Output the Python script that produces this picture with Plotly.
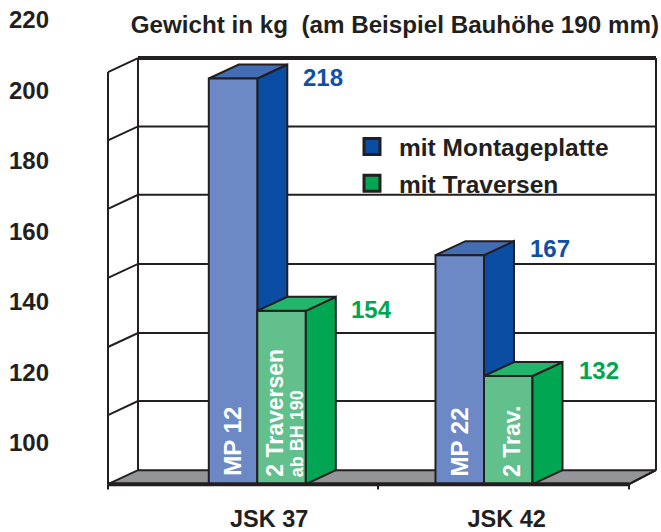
import plotly.graph_objects as go

# ---- data ----
groups = ["JSK 37", "JSK 42"]
group_pos = [0, 1]
group_label_pos = [0.052, 1.1]
axis_ticks = [100, 120, 140, 160, 180, 200, 220]
bar_top_montageplatte = [203.4, 153.3]   # height as drawn against the axis
bar_top_traversen = [137.5, 119.0]
printed_montageplatte = ["218", "167"]
printed_traversen = ["154", "132"]
inner_montageplatte = ["MP 12", "MP 22"]
inner_traversen = ["2 Traversen", "2 Trav."]
grid_levels = [111.9, 131.2, 150.8, 170.4, 189.8, 209.2]
floor_level = 92.3
floor_ticks = [-0.6586, 0.5324, 1.6398]

# ---- geometry ----
DX, DY = 0.1323, 3.97
BAR_W = 0.214
X_L, X_BR, X_FR = -0.6586, 1.7587, 1.6398
Y_RANGE = [85.25, 222.84]
X_RANGE = [-0.8924, 1.7764]
INK = "#231f20"
BASE = floor_level - DY
FONT = "Liberation Sans"

BLUE_F, BLUE_S, BLUE_T = "#6c89c6", "#0b4da2", "#436db5"
GREEN_F, GREEN_S, GREEN_T = "#62c08c", "#00a651", "#22b56b"

fig = go.Figure()


def poly(xs, ys, fill, ax=("x", "y"), width=2):
    fig.add_trace(go.Scatter(x=xs, y=ys, mode="lines", fill="toself", fillcolor=fill,
                             line=dict(color=INK, width=width), xaxis=ax[0], yaxis=ax[1],
                             showlegend=False, hoverinfo="skip"))


def lines(xs, ys, ax=("x", "y"), width=2):
    fig.add_trace(go.Scatter(x=xs, y=ys, mode="lines", line=dict(color=INK, width=width),
                             xaxis=ax[0], yaxis=ax[1], showlegend=False, hoverinfo="skip"))


back_l = X_L + DX
# floor
poly([X_L, back_l, X_BR, X_FR, X_L], [BASE, floor_level, floor_level, BASE, BASE], "#939598")
# grid + walls
gx, gy = [], []
for lv in grid_levels[:-1]:
    gx += [X_L, back_l, X_BR, None]
    gy += [lv - DY, lv, lv, None]
lines(gx, gy)
top = grid_levels[-1]
lines([X_L, back_l], [top - DY, top])
lines([back_l, X_BR], [top, top], width=4)
lines([X_L, X_L, None, back_l, back_l, None, X_BR, X_BR],
      [BASE, top - DY, None, floor_level, top, None, floor_level, top])

# dark faces of the rear bars
for p, v in zip(group_pos, bar_top_montageplatte):
    l, r = p - BAR_W, p
    poly([r, r + DX, r + DX, r, r], [v, v + DY, BASE + DY, BASE, v], BLUE_S)
    poly([l, l + DX, r + DX, r, l], [v, v + DY, v + DY, v, v], BLUE_T)

# front faces
fig.add_trace(go.Bar(x=group_pos, y=[v - BASE for v in bar_top_montageplatte], base=BASE,
                     marker=dict(color=BLUE_F, line=dict(color=INK, width=2)),
                     xaxis="x2", yaxis="y2", showlegend=False, hoverinfo="skip"))
fig.add_trace(go.Bar(x=group_pos, y=[v - BASE for v in bar_top_traversen], base=BASE,
                     marker=dict(color=GREEN_F, line=dict(color=INK, width=2)),
                     xaxis="x2", yaxis="y2", showlegend=False, hoverinfo="skip"))

for p, v in zip(group_pos, bar_top_traversen):
    l, r = p, p + BAR_W
    poly([r, r + DX, r + DX, r, r], [v, v + DY, BASE + DY, BASE, v], GREEN_S, ("x2", "y2"))
    poly([l, l + DX, r + DX, r, l], [v, v + DY, v + DY, v, v], GREEN_T, ("x2", "y2"))

# front floor edge and its ticks
lines([X_L, X_FR], [BASE, BASE], ("x2", "y2"), width=4)
tx, ty = [], []
for t in floor_ticks:
    tx += [t, t, None]
    ty += [BASE, BASE - 1.5, None]
lines(tx, ty, ("x2", "y2"))
lines([X_BR, X_FR], [floor_level, BASE], ("x2", "y2"))

# legend
for name, col in [("mit Montageplatte", BLUE_S), ("mit Traversen", GREEN_S)]:
    fig.add_trace(go.Scatter(x=[None], y=[None], mode="markers", name=name, legendgroup=name,
                             marker=dict(symbol="square", size=16, color=col,
                                         line=dict(color=INK, width=3))))

ann = []


def note(x, y, text, color, size, xshift=0, yshift=0, angle=0, xanchor="center", yanchor="middle"):
    ann.append(dict(x=x, y=y, xref="x2", yref="y2", text=text, showarrow=False, textangle=angle,
                    xshift=xshift, yshift=yshift, xanchor=xanchor, yanchor=yanchor,
                    font=dict(family=FONT, size=size, color=color, weight=700)))


for p, v, s in zip(group_pos, bar_top_montageplatte, printed_montageplatte):
    note(p + DX, v + DY, s, "#0f4fa8", 24, xshift=36, yshift=-13 if p == 0 else -7)
for p, v, s in zip(group_pos, bar_top_traversen, printed_traversen):
    note(p + BAR_W + DX, v + DY, s, "#00a651", 24, xshift=36, yshift=-13 if p == 0 else -8)
for p, s in zip(group_pos, inner_montageplatte):
    note(p - BAR_W / 2, BASE, s, "white", 24, angle=-90, yanchor="bottom", yshift=6)
note(group_pos[0] + BAR_W / 2, BASE, inner_traversen[0], "white", 23, xshift=-6, angle=-90,
     yanchor="bottom", yshift=5)
note(group_pos[0] + BAR_W / 2, BASE, "ab BH 190", "white", 18, xshift=15, angle=-90,
     yanchor="bottom", yshift=5)
note(group_pos[1] + BAR_W / 2, BASE, inner_traversen[1], "white", 23, xshift=3, angle=-90,
     yanchor="bottom", yshift=5)

fig.update_layout(
    width=661, height=532,
    margin=dict(l=55, r=1, t=10, b=37),
    paper_bgcolor="white", plot_bgcolor="rgba(0,0,0,0)",
    barmode="group", bargap=0.572, bargroupgap=0,
    title=dict(text="Gewicht in kg  (am Beispiel Bauhöhe 190 mm)", xref="container", yref="container",
               x=659 / 661, xanchor="right", y=1 - 25 / 532, yanchor="middle", automargin=False,
               font=dict(family=FONT, size=24.2, color=INK, weight=700)),
    xaxis=dict(range=X_RANGE, domain=[0, 1], showgrid=False, zeroline=False, showticklabels=False,
               ticks="", automargin=False),
    yaxis=dict(range=Y_RANGE, domain=[0, 1], showgrid=False, zeroline=False, tickvals=axis_ticks,
               ticks="", ticklabelstandoff=5, showline=False, automargin=False,
               tickfont=dict(family=FONT, size=24, color=INK, weight=700)),
    xaxis2=dict(range=X_RANGE, domain=[0, 1], overlaying="x", showgrid=False, zeroline=False,
                tickvals=group_label_pos, ticktext=groups, ticks="outside", ticklen=3,
                tickcolor="rgba(0,0,0,0)", anchor="y2", automargin=False,
                tickfont=dict(family=FONT, size=23.5, color=INK, weight=700)),
    yaxis2=dict(range=Y_RANGE, domain=[0, 1], overlaying="y", visible=False, anchor="x2", automargin=False),
    legend=dict(x=(345 - 55) / 605, y=1 - (124 - 10) / 485, xanchor="left", yanchor="top",
                bgcolor="rgba(0,0,0,0)", itemwidth=44, tracegroupgap=2, itemsizing="trace",
                font=dict(family=FONT, size=24.5, color=INK, weight=700)),
    annotations=ann,
    showlegend=True,
)

fig.write_html("out.html", config={"displayModeBar": False},
               post_script="document.body.style.margin='0';")
